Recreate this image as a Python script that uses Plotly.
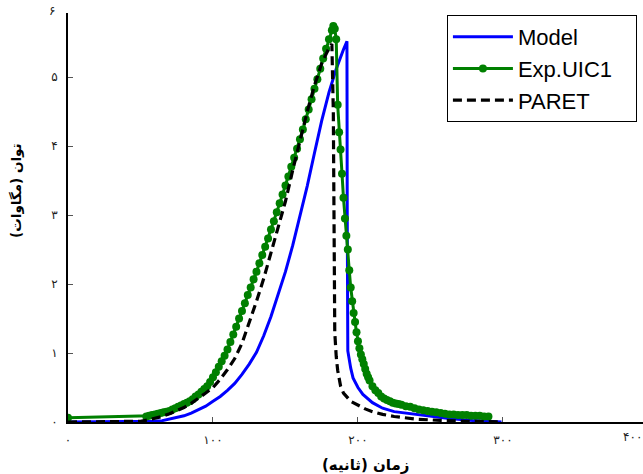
import plotly.graph_objects as go

# ---- data ----
model_t = [0, 55, 60, 65, 70, 75, 80, 85, 90, 95, 100, 105, 110, 115, 120, 125, 130, 135, 140,
           145, 150, 155, 160, 165, 170, 175, 180, 185, 190, 192.4, 192.6, 193, 195, 196.6, 200,
           203.4, 210, 217, 225, 236, 250, 263, 280, 299]
model_p = [0, 0, 0.01, 0.02, 0.04, 0.06, 0.09, 0.13, 0.18, 0.23, 0.30, 0.37, 0.46, 0.56, 0.69,
           0.84, 1.01, 1.25, 1.53, 1.84, 2.18, 2.56, 2.97, 3.42, 3.90, 4.37, 4.78, 5.12, 5.40,
           5.52, 3.0, 1.03, 0.78, 0.64, 0.50, 0.40, 0.28, 0.20, 0.15, 0.12, 0.08, 0.05, 0.02, 0]

exp_t = [0, 54, 56, 58, 60, 62, 64, 66, 68, 70, 72, 74, 76, 78, 80, 82, 84, 86, 88, 90, 92, 94,
         96, 98, 100, 102, 104, 106, 108, 110, 112, 114, 116, 118, 120, 122, 124, 126, 128, 130,
         132, 134, 136, 138, 140, 142, 144, 146, 148, 150, 152, 154, 156, 158, 160, 162, 164,
         166, 168, 170, 172, 174, 176, 178, 180, 182, 183,
         184, 185, 186, 187, 188, 189, 190, 191, 192, 193, 194, 195, 196, 197, 198, 199, 200,
         201, 202, 203, 204, 205, 206, 207, 208, 210, 212, 214, 216, 218, 220, 222, 224, 226,
         228, 230, 233, 236, 239, 242, 245, 248, 251, 254, 257, 260, 263, 266, 269, 272, 275,
         278, 281, 284, 287, 290]
exp_p = [0.06, 0.08, 0.09, 0.10, 0.11, 0.12, 0.13, 0.14, 0.15, 0.16, 0.18, 0.20, 0.22, 0.24,
         0.26, 0.28, 0.30, 0.33, 0.37, 0.40, 0.44, 0.48, 0.52, 0.58, 0.65, 0.72, 0.80, 0.88,
         0.96, 1.05, 1.16, 1.27, 1.38, 1.50, 1.61, 1.72, 1.84, 1.95, 2.07, 2.18, 2.30, 2.42,
         2.54, 2.66, 2.79, 2.91, 3.04, 3.17, 3.30, 3.43, 3.56, 3.70, 3.83, 3.96, 4.10, 4.24,
         4.39, 4.53, 4.68, 4.83, 4.97, 5.12, 5.27, 5.41, 5.55, 5.68, 5.74,
         5.70, 5.55, 4.60, 4.20, 3.95, 3.60, 3.25, 2.95, 2.70, 2.50, 2.20, 1.95, 1.75, 1.58,
         1.45, 1.30, 1.17, 1.07, 0.98, 0.91, 0.84, 0.77, 0.70, 0.65, 0.60, 0.52, 0.46, 0.42,
         0.37, 0.34, 0.32, 0.30, 0.28, 0.27, 0.26, 0.25, 0.23, 0.22, 0.20, 0.18, 0.17, 0.16,
         0.15, 0.14, 0.13, 0.12, 0.11, 0.11, 0.10, 0.10, 0.10, 0.09, 0.09, 0.09, 0.08, 0.08]

paret_t = [0, 45, 50, 55, 60, 65, 70, 75, 80, 85, 90, 95, 100, 105, 110, 115, 120, 125, 130,
           135, 140, 145, 150, 155, 160, 165, 170, 175, 180, 182, 183, 183.5, 184, 185, 186,
           188, 190, 195, 200, 205, 210, 217, 225, 241, 260, 280, 298]
paret_p = [0, 0, 0.01, 0.03, 0.05, 0.08, 0.12, 0.16, 0.21, 0.27, 0.34, 0.42, 0.50, 0.62, 0.76,
           0.92, 1.14, 1.43, 1.75, 2.08, 2.44, 2.80, 3.20, 3.65, 4.10, 4.50, 4.88, 5.20, 5.42,
           5.48, 4.50, 2.50, 1.30, 0.95, 0.75, 0.52, 0.42, 0.30, 0.24, 0.19, 0.15, 0.11, 0.08,
           0.04, 0.02, 0.01, 0]

x_tickvals = [0, 100, 200, 300]
x_ticktext = ["۰", "۱۰۰", "۲۰۰", "۳۰۰"]
y_tickvals = [0, 1, 2, 3, 4, 5]
y_ticktext = ["۰", "۱", "۲", "۳", "۴", "۵"]
x_title = "زمان (ثانیه)"
y_title = "توان (مگاوات)"

fa_font = "DejaVu Sans"

fig = go.Figure()
fig.add_trace(go.Scatter(x=model_t, y=model_p, mode="lines", name="Model",
                         line=dict(color="#0000FF", width=3)))
fig.add_trace(go.Scatter(x=exp_t, y=exp_p, mode="lines+markers",
                         name="Exp.UIC1\u00a0\u00a0\u00a0\u200b",
                         line=dict(color="#008000", width=3),
                         marker=dict(color="#008000", size=8)))
fig.add_trace(go.Scatter(x=paret_t, y=paret_p, mode="lines", name="PARET",
                         line=dict(color="black", width=3.2, dash="9px,5px")))

fig.update_layout(
    width=643, height=474,
    margin=dict(l=68, r=0, t=13, b=52, autoexpand=False),
    paper_bgcolor="white", plot_bgcolor="white",
    showlegend=True,
    legend=dict(x=0.659, y=0.995, xanchor="left", yanchor="top",
                bgcolor="white", bordercolor="black", borderwidth=1,
                font=dict(family="Liberation Sans, Arial", size=22, color="black"),
                itemwidth=60, tracegroupgap=0),
    xaxis=dict(range=[0, 396.6], tickvals=x_tickvals, ticktext=x_ticktext,
               showgrid=False, zeroline=False, showline=True, linecolor="black", linewidth=2,
               ticks="inside", ticklen=5, tickcolor="#555", tickwidth=1,
               tickfont=dict(family=fa_font, size=12, color="#222"),
               ticklabelstandoff=6, automargin=False),
    yaxis=dict(range=[0, 5.93], tickvals=y_tickvals, ticktext=y_ticktext,
               showgrid=False, zeroline=False, showline=True, linecolor="black", linewidth=2,
               ticks="inside", ticklen=5, tickcolor="#555", tickwidth=1,
               tickfont=dict(family=fa_font, size=12, color="#222"),
               ticklabelstandoff=6, automargin=False),
    annotations=[
        dict(text=x_title, xref="paper", yref="paper", x=0.518, y=-0.105,
             xanchor="center", yanchor="middle", showarrow=False,
             font=dict(family=fa_font, size=15, color="black", weight="bold")),
        dict(text=y_title, xref="paper", yref="paper", x=-0.0904, y=0.565,
             xanchor="center", yanchor="middle", showarrow=False, textangle=-90,
             font=dict(family=fa_font, size=13.5, color="black", weight="bold")),
        dict(text="۴۰۰", xref="paper", yref="paper", x=0.981, y=-0.037,
             xanchor="center", yanchor="middle", showarrow=False,
             font=dict(family=fa_font, size=12, color="#222")),
        dict(text="۶", xref="paper", yref="paper", x=-0.02, y=1.005,
             xanchor="right", yanchor="middle", showarrow=False,
             font=dict(family=fa_font, size=12, color="#222")),
    ],
)

fig.write_html("out.html", config={"displayModeBar": False},
               post_script="document.body.style.margin='0px';document.body.style.overflow='hidden';")
